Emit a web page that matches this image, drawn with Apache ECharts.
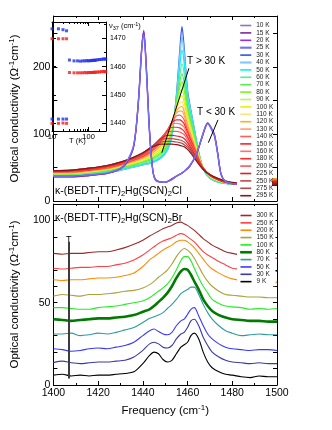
<!DOCTYPE html>
<html>
<head>
<meta charset="utf-8">
<script src="https://cdn.jsdelivr.net/npm/echarts@6/dist/echarts.min.js"></script>
<style>
  html, body { margin: 0; padding: 0; background: #fff; }
  #chart { width: 332px; height: 430px; }
</style>
</head>
<body>
<div id="chart"></div>
<script>
/* global echarts */

// ---------- values ----------

// upper panel, k-Cl, T < 30 K (split mode)
const freqClLow = [1400, 1408, 1416, 1424, 1430, 1433, 1436, 1438, 1439.5, 1440.4, 1441.5, 1443, 1444.5, 1446, 1450, 1453, 1455, 1458, 1461, 1464, 1466, 1468, 1469, 1470.5, 1472, 1473.5, 1475, 1477, 1480, 1482];
const cl10 = [36, 36, 38, 41, 48, 58, 82, 145, 225, 255, 205, 105, 45, 31, 28, 33, 37, 43, 52, 70, 90, 110, 117, 110, 100, 72, 40, 29, 26, 25];
const cl15 = [36, 36, 38, 41, 48, 58, 83, 148, 228, 253, 203, 104, 45, 31, 28, 33, 37, 43, 52, 70, 90, 110, 116, 109, 99, 71, 40, 29, 26, 25];
const cl20 = [37, 37, 39, 41, 48, 59, 84, 150, 230, 252, 200, 102, 44, 30, 28, 32, 37, 43, 52, 70, 91, 111, 116, 109, 98, 70, 39, 29, 26, 25];
const cl25 = [37, 37, 39, 42, 49, 60, 85, 148, 226, 248, 198, 100, 44, 30, 28, 32, 37, 43, 53, 71, 91, 111, 115, 108, 97, 69, 39, 29, 26, 25];

// upper panel, k-Cl, T >= 30 K
const freqCl = [1400, 1408, 1416, 1424, 1430, 1435, 1440, 1444, 1448, 1451, 1453, 1455, 1456.5, 1457.5, 1458.5, 1460, 1461.5, 1463, 1465, 1467, 1470, 1474, 1478, 1482];
const cl30 = [38, 38, 40, 42, 46, 50, 54, 57, 64, 76, 98, 158, 224, 260, 228, 165, 135, 108, 72, 48, 34, 28, 26, 25];
const cl40 = [38, 38, 40, 42, 46, 50, 54, 57, 64, 76, 98, 153, 214, 245, 218, 160, 132, 106, 72, 48, 34, 28, 26, 25];
const cl50 = [38, 38, 40, 43, 47, 51, 55, 58, 65, 78, 100, 150, 201, 225, 205, 152, 128, 104, 72, 48, 35, 28, 26, 25];
const cl60 = [39, 39, 41, 44, 48, 52, 56, 60, 67, 81, 103, 148, 187, 205, 190, 145, 123, 100, 71, 49, 35, 29, 26, 25];
const cl70 = [39, 40, 42, 45, 49, 53, 58, 62, 70, 84, 106, 146, 177, 190, 176, 140, 118, 97, 70, 49, 36, 29, 26, 25];
const cl80 = [40, 40, 43, 46, 50, 54, 59, 64, 72, 87, 108, 144, 169, 178, 165, 134, 114, 94, 69, 49, 36, 29, 26, 25];
const cl90 = [40, 41, 43, 47, 51, 55, 60, 66, 75, 90, 111, 142, 161, 167, 155, 128, 110, 91, 68, 49, 37, 30, 27, 25];
const cl100 = [41, 41, 44, 47, 52, 56, 62, 68, 78, 95, 114, 140, 154, 157, 147, 123, 106, 88, 67, 49, 37, 30, 27, 25];
const cl110 = [41, 42, 44, 48, 52, 57, 63, 70, 81, 98, 116, 137, 147, 148, 139, 118, 102, 86, 66, 49, 37, 30, 27, 25];
const cl120 = [42, 42, 45, 48, 53, 58, 64, 71, 83, 101, 117, 134, 140, 141, 133, 114, 99, 84, 65, 49, 38, 31, 27, 25];
const cl130 = [42, 43, 45, 49, 54, 59, 65, 73, 86, 103, 118, 131, 134, 134, 127, 110, 96, 82, 64, 49, 38, 31, 27, 25];
const cl140 = [43, 43, 46, 49, 54, 60, 66, 74, 88, 105, 118, 127, 128, 126, 121, 106, 93, 80, 63, 49, 38, 31, 27, 25];
const cl150 = [43, 44, 46, 50, 55, 60, 67, 76, 90, 106, 117, 121, 121, 119, 115, 102, 90, 78, 62, 49, 38, 31, 27, 25];
const cl160 = [43, 44, 47, 50, 56, 61, 68, 77, 92, 106, 114, 116, 115, 113, 110, 98, 87, 76, 61, 49, 39, 32, 28, 26];
const cl180 = [44, 45, 47, 51, 56, 62, 69, 79, 93, 105, 110, 110, 109, 107, 104, 95, 85, 74, 60, 49, 39, 32, 28, 26];
const cl200 = [44, 45, 48, 52, 57, 62, 70, 80, 94, 103, 104, 104, 103, 101, 99, 91, 82, 72, 59, 48, 39, 32, 28, 26];
const cl225 = [44, 45, 48, 52, 57, 63, 71, 81, 93, 98, 98, 97, 96, 95, 93, 87, 79, 70, 58, 48, 39, 32, 28, 26];
const cl250 = [45, 46, 49, 53, 58, 63, 71, 81, 91, 93, 93, 92, 91, 90, 88, 83, 76, 68, 57, 48, 39, 32, 28, 26];
const cl275 = [45, 46, 49, 53, 58, 64, 72, 81, 88, 89, 89, 88, 87, 86, 84, 80, 74, 66, 56, 47, 39, 33, 29, 27];
const cl295 = [45, 46, 49, 53, 58, 64, 72, 80, 85, 85, 85, 84, 83, 82, 81, 77, 71, 64, 55, 47, 39, 33, 29, 27];

// lower panel, k-Br (curves offset by the authors)
const freqBr = [1400, 1404, 1408, 1412, 1416, 1420, 1424, 1428, 1432, 1436, 1440, 1443, 1445, 1447, 1449, 1451, 1453, 1455, 1457, 1458.5, 1460, 1461.5, 1463, 1465, 1467, 1469, 1471, 1474, 1477, 1480, 1484, 1488, 1492, 1496, 1500];
const br9 = [6, 6.5, 5.5, 6, 5.5, 6, 6, 6.5, 7, 8, 13, 18, 20, 19, 15.5, 14, 15, 19, 23, 24.5, 26, 30, 31.5, 28, 20, 14, 10.5, 8, 6.5, 6, 5, 4.5, 5.5, 5, 5];
const br30 = [13.6, 14.5, 13.5, 13, 13.5, 14, 14, 14.5, 15, 17, 21, 25, 26, 25, 23, 22.5, 24, 28, 31, 32, 35, 39, 40, 36, 29, 24, 20, 17, 15, 14, 13.5, 13, 13.5, 13, 13];
const br50 = [22, 21.5, 20.5, 21, 22, 22.5, 22, 23, 24, 26, 30, 33, 34, 32.5, 31, 30.5, 32, 36, 39, 40, 43, 46, 47, 42, 36, 31, 28, 25, 23, 22, 21.5, 21, 21.5, 21.5, 21];
const br70 = [31, 31, 31.5, 30, 30.5, 31.5, 31, 32, 33.5, 35, 38, 40.5, 41.5, 42.5, 44, 46.5, 49, 52, 55.5, 57, 58, 59.5, 59.5, 55, 49, 44, 40, 36, 33, 31.5, 30, 30.5, 31, 30.5, 30.5];
const br80 = [40, 39.5, 39, 39.5, 40, 40.5, 40.5, 41, 41.5, 42.5, 44.5, 46, 48, 50.5, 53, 56, 60, 65, 69, 70.5, 70, 67, 63, 58, 52, 48, 45, 42.5, 41, 40, 39.5, 39, 39, 38.5, 38.5];
const br100 = [47, 47, 46.5, 46, 46, 47, 47.5, 48, 49, 50, 51, 53, 55, 57, 59, 61.5, 65, 70, 75.5, 78, 78, 75.5, 71, 65, 60, 56, 52, 49.5, 48, 47.5, 47, 46, 46.5, 46, 46.5];
const br150 = [54, 55, 54.5, 54, 55, 55, 55.5, 56, 57, 57.5, 59, 61, 63, 65.5, 67.5, 70, 73.5, 78, 81.5, 83, 82, 80, 77, 72, 67, 63, 60, 57, 55, 54.5, 54, 53.5, 53.5, 53, 53];
const br200 = [64, 63.5, 64, 64, 64.5, 65, 65, 65.5, 66.5, 68, 72, 76, 78, 80, 82, 83.5, 85, 87, 88, 88, 87, 85.5, 83.5, 80, 76.5, 73, 70.5, 68, 66, 64.5, 63.5, 63, 63, 62.5, 62.5];
const br250 = [71, 70.5, 71, 71.5, 71.5, 72, 72, 73, 74, 76, 79, 82, 84, 86, 87.5, 88.5, 89.5, 91, 92, 91.5, 90, 88.5, 87, 84, 81, 79, 77.5, 75, 73, 71, 70.5, 70, 69.5, 69, 69];
const br300 = [80, 79.5, 80, 80, 80.5, 81, 81, 82, 83.5, 85.5, 88, 90.5, 92, 93.5, 95, 96, 97, 98.5, 99, 98, 97, 95.5, 94, 91.5, 89, 87, 85, 83, 81, 80, 79, 78.5, 78, 77.5, 77];

// inset: mode frequency vs temperature
const insetTempLow = [10, 15, 20, 25];
const nuBlueUpper = [1473.3, 1473.3, 1473.0, 1472.6];
const nuRedUpper = [1469.8, 1469.8, 1469.8, 1469.8];
const nuBlueLower = [1441.5, 1441.5, 1441.5, 1441.5];
const nuRedLower = [1440.0, 1440.0, 1440.1, 1440.0];
const insetTempHigh = [30, 40, 50, 60, 70, 80, 90, 100, 110, 120, 130, 140, 150, 160, 180, 200, 225, 250, 275, 295];
const nuBlueHigh = [1462.3, 1462.0, 1462.0, 1461.9, 1462.0, 1462.0, 1462.1, 1462.0, 1462.1, 1462.1, 1462.2, 1462.2, 1462.2, 1462.3, 1462.4, 1462.5, 1462.5, 1462.7, 1462.6, 1462.7];
const nuRedHigh = [1457.9, 1457.8, 1457.8, 1457.8, 1457.8, 1457.9, 1457.8, 1457.9, 1457.9, 1457.9, 1457.9, 1458.0, 1458.0, 1458.0, 1458.1, 1458.1, 1458.2, 1458.3, 1458.2, 1458.2];

// annotation arrows (data coordinates, start -> head)
const arrowHighT = [[1460.6, 198], [1448.5, 72]];
const arrowLowT = [[1469.3, 87], [1473.6, 121]];
const arrowBrT = [[1406.8, 4], [1406.8, 87]];

// ---------- styles ----------
const FONT = '"Liberation Sans", Arial, sans-serif';

const clLowSet = [
  ['10 K', cl10, '#9b6fb0', 1.2],
  ['15 K', cl15, '#7a2a9a', 1.2],
  ['20 K', cl20, '#9a2af0', 1.2],
  ['25 K', cl25, '#7070f0', 1.4]
];
const clHighSet = [
  ['30 K', cl30, '#2f55e6', 1.2],
  ['40 K', cl40, '#80c8ff', 1.6],
  ['50 K', cl50, '#00f2f2', 1.2],
  ['60 K', cl60, '#50ee9c', 1.2],
  ['70 K', cl70, '#58ec50', 1.2],
  ['80 K', cl80, '#78f420', 1.2],
  ['90 K', cl90, '#c4f24c', 1.2],
  ['100 K', cl100, '#ecec10', 1.2],
  ['110 K', cl110, '#ffe27a', 1.2],
  ['120 K', cl120, '#ffb020', 1.2],
  ['130 K', cl130, '#ffa070', 1.2],
  ['140 K', cl140, '#ff6050', 1.2],
  ['150 K', cl150, '#ff2020', 1.2],
  ['160 K', cl160, '#ff7070', 1.2],
  ['180 K', cl180, '#ff2a2a', 1.2],
  ['200 K', cl200, '#fa5656', 1.2],
  ['225 K', cl225, '#e01e1e', 1.2],
  ['250 K', cl250, '#c04848', 1.2],
  ['275 K', cl275, '#a84c4c', 1.2],
  ['295 K', cl295, '#8c1414', 1.2]
];
const brSet = [
  ['300 K', br300, '#9b2a2a', 1.1],
  ['250 K', br250, '#ff4040', 1.1],
  ['200 K', br200, '#ff8c00', 1.1],
  ['150 K', br150, '#aaa23c', 1.1],
  ['100 K', br100, '#22ee22', 1.1],
  ['80 K', br80, '#007a00', 2.6],
  ['70 K', br70, '#2e9c9c', 1.1],
  ['50 K', br50, '#3a3aff', 1.1],
  ['30 K', br30, '#3a3aa8', 1.1],
  ['9 K', br9, '#000000', 1.1]
];

function lineSeries (name, xs, ys, color, width, axis) {
  return {
    name: name,
    type: 'line',
    xAxisIndex: axis,
    yAxisIndex: axis,
    data: xs.map((x, i) => [x, ys[i]]),
    showSymbol: false,
    symbol: 'none',
    smooth: 0.3,
    lineStyle: { color: color, width: width },
    itemStyle: { color: color },
    emphasis: { disabled: true },
    silent: true
  };
}

function arrowLine (pts) {
  return [{ coord: pts[0] }, { coord: pts[1] }];
}

// legend entry: flat bar, a thicker one where the line is thicker
function legendItem (name, color, width) {
  const item = { name: name, itemStyle: { color: color, borderWidth: 0 } };
  if (width > 1.3) {
    item.itemStyle.borderColor = color;
    item.itemStyle.borderWidth = width > 2 ? 1 : 0.5;
  }
  return item;
}

const series = [];
clHighSet.forEach(s => series.push(lineSeries(s[0], freqCl, s[1], s[2], s[3], 0)));
clLowSet.forEach(s => series.push(lineSeries(s[0], freqClLow, s[1], s[2], s[3], 0)));
brSet.forEach(s => series.push(lineSeries('Br ' + s[0], freqBr, s[1], s[2], s[3], 2)));

// arrows in the upper panel
series[series.length - 11].markLine = {
  silent: true,
  symbol: ['none', 'arrow'],
  symbolSize: [0, 7],
  label: { show: false },
  lineStyle: { color: '#000', width: 1, type: 'solid' },
  data: [arrowLine(arrowHighT), arrowLine(arrowLowT)]
};
// T arrow in the lower panel
series[series.length - 1].markLine = {
  silent: true,
  symbol: ['none', 'arrow'],
  symbolSize: [0, 8],
  label: { show: false },
  lineStyle: { color: '#3c3c3c', width: 2, type: 'solid' },
  data: [arrowLine(arrowBrT)]
};

function scatter (xs, ys, color) {
  return {
    type: 'scatter',
    xAxisIndex: 4,
    yAxisIndex: 4,
    data: xs.map((x, i) => [x, ys[i]]),
    symbol: 'rect',
    symbolSize: 3,
    itemStyle: { color: color },
    silent: true
  };
}
series.push(scatter(insetTempLow, nuBlueUpper, '#1f2ef0'));
series.push(scatter(insetTempLow, nuRedUpper, '#f51e1e'));
series.push(scatter(insetTempLow, nuBlueLower, '#1f2ef0'));
series.push(scatter(insetTempLow, nuRedLower, '#f51e1e'));
series.push(scatter(insetTempHigh, nuBlueHigh, '#1f2ef0'));
series.push(scatter(insetTempHigh, nuRedHigh, '#f51e1e'));

const supRich = {
  sup: { fontSize: 8, fontFamily: FONT, color: '#000', verticalAlign: 'top', lineHeight: 9 }
};
const yName = 'Optical conductivity (Ω{sup|-1}cm{sup|-1})';

const tick = { show: true, inside: true, length: 4, lineStyle: { color: '#000' } };
const minor = { show: true, length: 2, lineStyle: { color: '#000' } };
const line = { show: true, onZero: false, lineStyle: { color: '#000', width: 1 } };

function freqAxis (grid, pos, labels) {
  return {
    type: 'value', gridIndex: grid, position: pos, min: 1400, max: 1500, interval: 20,
    axisLine: line, axisTick: tick, minorTick: Object.assign({ splitNumber: 2 }, minor),
    splitLine: { show: false },
    axisLabel: { show: labels, fontSize: 10.5, fontFamily: FONT, color: '#000', margin: 3, formatter: v => String(v) }
  };
}

const is10 = v => Math.abs(v / 10 - Math.round(v / 10)) < 1e-6;
const isDecade = v => Math.abs(Math.log10(v) - Math.round(Math.log10(v))) < 1e-6;

const legendText = { fontSize: 6.5, lineHeight: 7, fontFamily: FONT, color: '#222' };

const option = {
  animation: false,
  backgroundColor: '#fff',
  grid: [
    { left: 46, top: 16, width: 231, height: 185 },
    { left: 46, top: 204, width: 231, height: 181 },
    { left: 52, top: 22, width: 54, height: 109 }
  ],
  xAxis: [
    freqAxis(0, 'bottom', false),
    freqAxis(0, 'top', false),
    Object.assign(freqAxis(1, 'bottom', true), {
      name: 'Frequency (cm{sup|-1})',
      nameLocation: 'middle',
      nameGap: 19,
      nameTextStyle: { fontSize: 11.5, fontFamily: FONT, color: '#000', lineHeight: 14, rich: supRich }
    }),
    freqAxis(1, 'top', false),
    {
      type: 'log', logBase: 10, gridIndex: 2, position: 'bottom', min: 10, max: 300,
      axisLine: line, axisTick: tick, minorTick: Object.assign({ splitNumber: 9 }, minor),
      splitLine: { show: false },
      axisLabel: { fontSize: 7.5, fontFamily: FONT, color: '#000', margin: 1.5, formatter: v => (isDecade(v) ? String(Math.round(v)) : '') }
    },
    {
      type: 'log', logBase: 10, gridIndex: 2, position: 'top', min: 10, max: 300,
      axisLine: line, axisTick: tick, minorTick: Object.assign({ splitNumber: 9 }, minor),
      splitLine: { show: false }, axisLabel: { show: false }
    }
  ],
  yAxis: [
    {
      type: 'value', gridIndex: 0, position: 'left', min: 0, max: 276, interval: 50,
      axisLine: line, axisTick: tick, splitLine: { show: false },
      axisLabel: {
        fontSize: 10.5, fontFamily: FONT, color: '#000', margin: 3, showMinLabel: true, hideOverlap: false,
        formatter: v => (v % 100 === 0 ? String(v) : '')
      },
      name: yName, nameLocation: 'middle', nameGap: 23, nameRotate: 90,
      nameTextStyle: { fontSize: 11.5, fontFamily: FONT, color: '#000', lineHeight: 14, rich: supRich }
    },
    {
      type: 'value', gridIndex: 0, position: 'right', min: 0, max: 276, interval: 50,
      axisLine: line, axisTick: tick, splitLine: { show: false }, axisLabel: { show: false }
    },
    {
      type: 'value', gridIndex: 1, position: 'left', min: 0, max: 110, interval: 10,
      axisLine: line, axisTick: tick, splitLine: { show: false },
      axisLabel: {
        fontSize: 10.5, fontFamily: FONT, color: '#000', margin: 3, showMinLabel: true, hideOverlap: false,
        formatter: v => (v % 50 === 0 ? String(v) : '')
      },
      name: yName, nameLocation: 'middle', nameGap: 23, nameRotate: 90,
      nameTextStyle: { fontSize: 11.5, fontFamily: FONT, color: '#000', lineHeight: 14, rich: supRich }
    },
    {
      type: 'value', gridIndex: 1, position: 'right', min: 0, max: 110, interval: 10,
      axisLine: line, axisTick: tick, splitLine: { show: false }, axisLabel: { show: false }
    },
    {
      type: 'value', gridIndex: 2, position: 'right', min: 1437.3, max: 1475.7, splitNumber: 4,
      axisLine: line, axisTick: tick, minorTick: Object.assign({ splitNumber: 2 }, minor),
      splitLine: { show: false },
      axisLabel: { fontSize: 7, fontFamily: FONT, color: '#000', margin: 4, formatter: v => (is10(v) ? String(Math.round(v)) : '') }
    },
    {
      type: 'value', gridIndex: 2, position: 'left', min: 1437.3, max: 1475.7, splitNumber: 4,
      axisLine: line, axisTick: tick, minorTick: Object.assign({ splitNumber: 2 }, minor),
      splitLine: { show: false }, axisLabel: { show: false }
    }
  ],
  legend: [
    {
      orient: 'vertical', left: 239, top: 21,
      icon: 'rect', itemWidth: 11, itemHeight: 1.6, itemGap: 0.4, padding: [1, 2, 1, 1],
      data: clLowSet.concat(clHighSet).map(s => legendItem(s[0], s[2], s[3])),
      textStyle: legendText,
      selectedMode: false
    },
    {
      orient: 'vertical', left: 237, top: 211,
      icon: 'rect', itemWidth: 11, itemHeight: 1.6, itemGap: 0.35, padding: [1, 2, 1, 3],
      backgroundColor: '#fff',
      data: brSet.map(s => legendItem('Br ' + s[0], s[2], s[3])),
      formatter: n => n.replace('Br ', ''),
      textStyle: legendText,
      selectedMode: false
    }
  ],
  graphic: [
    {
      type: 'text', x: 55, y: 191,
      style: {
        text: 'κ-(BEDT-TTF){sub|2}Hg(SCN){sub|2}Cl',
        fontSize: 10.5, fontFamily: FONT, fill: '#000', verticalAlign: 'middle', lineHeight: 13,
        rich: { sub: { fontSize: 7.5, fontFamily: FONT, fill: '#000', verticalAlign: 'bottom', lineHeight: 8 } }
      }
    },
    {
      type: 'text', x: 55, y: 218,
      style: {
        text: 'κ-(BEDT-TTF){sub|2}Hg(SCN){sub|2}Br',
        fontSize: 10.5, fontFamily: FONT, fill: '#000', verticalAlign: 'middle', lineHeight: 13,
        rich: { sub: { fontSize: 7.5, fontFamily: FONT, fill: '#000', verticalAlign: 'bottom', lineHeight: 8 } }
      }
    },
    { type: 'text', x: 187, y: 61, style: { text: 'T > 30 K', fontSize: 10, fontFamily: FONT, fill: '#000', verticalAlign: 'middle' } },
    { type: 'text', x: 197, y: 112, style: { text: 'T < 30 K', fontSize: 10, fontFamily: FONT, fill: '#000', verticalAlign: 'middle' } },
    { type: 'text', x: 66, y: 240, style: { text: 'T', fontSize: 9, fontFamily: FONT, fill: '#000', verticalAlign: 'middle' } },
    { type: 'text', x: 69, y: 141, style: { text: 'T (K)', fontSize: 7.5, fontFamily: FONT, fill: '#000', verticalAlign: 'middle' } },
    {
      type: 'text', x: 109, y: 26,
      style: {
        text: 'ν{sub|37} (cm{sup|-1})',
        fontSize: 7.5, fontFamily: FONT, fill: '#000', verticalAlign: 'middle', lineHeight: 10,
        rich: {
          sub: { fontSize: 5.5, fontFamily: FONT, fill: '#000', verticalAlign: 'bottom', lineHeight: 6 },
          sup: { fontSize: 5.5, fontFamily: FONT, fill: '#000', verticalAlign: 'top', lineHeight: 6 }
        }
      }
    },
    {
      type: 'rect', shape: { x: 272, y: 178, width: 5, height: 8 },
      style: {
        fill: new echarts.graphic.LinearGradient(0, 0, 0, 1, [
          { offset: 0, color: '#f2c21e' },
          { offset: 0.45, color: '#e0201c' },
          { offset: 1, color: '#6a0c20' }
        ])
      }
    }
  ],
  series: series
};

const chart = echarts.init(document.getElementById('chart'), null, { renderer: 'canvas' });
chart.setOption(option);
</script>
</body>
</html>
